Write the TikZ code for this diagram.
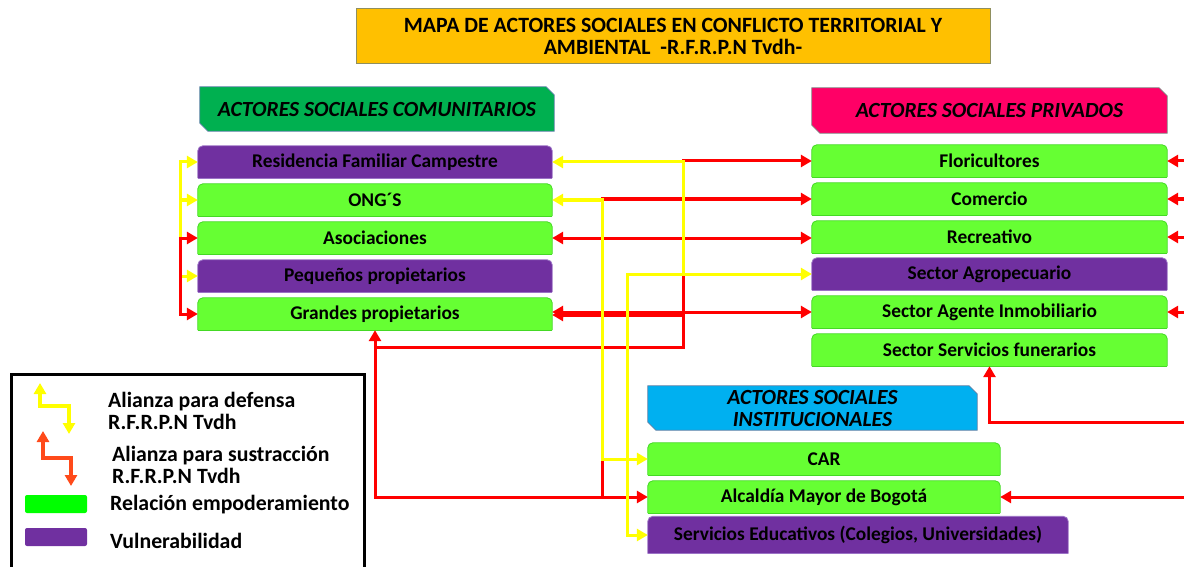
\documentclass[tikz,border=0pt]{standalone}
\usepackage{fontspec}
\setmainfont{Carlito}
\usetikzlibrary{arrows.meta,backgrounds}
\definecolor{gbox}{HTML}{66FF33}
\definecolor{gbord}{HTML}{44D924}
\definecolor{pbox}{HTML}{7030A0}
\definecolor{pbord}{HTML}{9B72C6}
\definecolor{tfill}{HTML}{FFC000}
\definecolor{tbord}{HTML}{8F8F5F}
\definecolor{hgreen}{HTML}{00B050}
\definecolor{hpink}{HTML}{FF0066}
\definecolor{hblue}{HTML}{00B0F0}
\definecolor{hbord}{HTML}{5B7FA6}
\definecolor{ared}{HTML}{FF0000}
\definecolor{ayel}{HTML}{FFFF00}
\definecolor{lorange}{HTML}{FF4A1A}
\definecolor{lgreen}{HTML}{00FF00}
\newcommand\bxfont{\fontsize{19.4}{22}\selectfont\bfseries}
\newcommand\hdfont{\fontsize{21.6}{22}\selectfont\bfseries\itshape}
\newcommand\ttlfont{\fontsize{21.8}{22}\selectfont\bfseries}
\newcommand\lgfont{\fontsize{21.8}{22}\selectfont\bfseries}
\newcommand\topround[3]{%
  \filldraw[fill=#2,draw=#3,line width=0.8pt,rounded corners=5pt]
    (#1.south west) -- (#1.north west) -- (#1.north east) -- (#1.south east);
  \draw[#3,line width=0.8pt] (#1.south west) -- (#1.south east);}
\newcommand\snipbox[3]{%
  \filldraw[fill=#2,draw=#3,line width=0.8pt]
    (#1.north west) -- ([xshift=-8pt]#1.north east) -- ([yshift=-8pt]#1.north east)
    -- (#1.south east) -- ([xshift=8pt]#1.south west) -- ([yshift=8pt]#1.south west) -- cycle;}
\begin{document}
\begin{tikzpicture}[x=1pt,y=-1pt,
  >={Triangle[length=11pt,width=12pt]},
  abox/.style={minimum height=32pt,inner sep=0pt,font=\bxfont,text=black},
  lbox/.style={abox,minimum width=354pt},
  rbox/.style={abox,minimum width=355pt},
  ibox/.style={abox,minimum width=352pt},
  hdr/.style={minimum height=44pt,inner sep=0pt,font=\hdfont,align=center},
  rline/.style={draw=ared,line width=3pt,line cap=rect},
  yline/.style={draw=ayel,line width=3pt,line cap=rect},
  lgtext/.style={anchor=west,font=\lgfont,align=left,inner sep=0pt}
]
\useasboundingbox (0,0) rectangle (1184,567);
% title
\node[draw=tbord,fill=tfill,line width=1pt,minimum width=634pt,minimum height=55pt,inner sep=0pt,font=\ttlfont,align=center] (title) at (673,36.5) {MAPA DE ACTORES SOCIALES EN CONFLICTO TERRITORIAL Y\\AMBIENTAL\ \ -R.F.R.P.N Tvdh-};
% headers
\node[hdr,minimum width=354pt] (hcom) at (377,109) {ACTORES SOCIALES COMUNITARIOS};
\node[hdr,minimum width=355pt,minimum height=45pt] (hpri) at (989.5,110.5) {ACTORES SOCIALES PRIVADOS};
\node[hdr,minimum width=329pt] (hins) at (812.5,408) {ACTORES SOCIALES\\INSTITUCIONALES};
% left column
\node[lbox] (res) at (375,162) {Residencia Familiar Campestre};
\node[lbox] (ong) at (375,200) {ONG´S};
\node[lbox] (aso) at (375,238) {Asociaciones};
\node[lbox] (peq) at (375,276) {Pequeños propietarios};
\node[lbox] (gra) at (375,314) {Grandes propietarios};
% right column
\node[rbox] (flo) at (989.5,161) {Floricultores};
\node[rbox] (com) at (989.5,199) {Comercio};
\node[rbox] (rec) at (989.5,237) {Recreativo};
\node[rbox] (agr) at (989.5,274) {Sector Agropecuario};
\node[rbox] (inm) at (989.5,312) {Sector Agente Inmobiliario};
\node[rbox] (fun) at (989.5,350) {Sector Servicios funerarios};
% institutional
\node[ibox] (car) at (824,459) {CAR};
\node[ibox] (alc) at (824,497) {Alcaldía Mayor de Bogotá};
\node[abox,minimum width=420pt,minimum height=37pt] (edu) at (858,535) {Servicios Educativos (Colegios, Universidades)};
% backgrounds
\begin{scope}[on background layer]
\snipbox{hcom}{hgreen}{hbord}
\snipbox{hpri}{hpink}{gray}
\snipbox{hins}{hblue}{hbord}
\topround{res}{pbox}{pbord}
\topround{ong}{gbox}{gbord}
\topround{aso}{gbox}{gbord}
\topround{peq}{pbox}{pbord}
\topround{gra}{gbox}{gbord}
\topround{flo}{gbox}{gbord}
\topround{com}{gbox}{gbord}
\topround{rec}{gbox}{gbord}
\topround{agr}{pbox}{pbord}
\topround{inm}{gbox}{gbord}
\topround{fun}{gbox}{gbord}
\topround{car}{gbox}{gbord}
\topround{alc}{gbox}{gbord}
\topround{edu}{pbox}{pbord}
\end{scope}
% left brackets
\coordinate (lyb) at (180,276);
\coordinate (lyo) at (180,200);
\coordinate (lrt) at (180,238);
\draw[yline,->] (lyb) |- (res.west);
\draw[yline,->] (lyo) -- (ong.west);
\draw[yline,->] (lyb) -- (peq.west);
\draw[rline,->] (lrt) -- (aso.west);
\draw[rline,->] (lrt) |- (gra.west);
% middle red
\coordinate (rA) at (683,347);
\coordinate (rB) at (375,347);
\coordinate (rC) at (602,460);
\coordinate (rD) at (602,497);
\coordinate (rE) at (602,199);
\coordinate (rF) at (683,315);
\draw[rline,->] (rA) |- (flo.west);
\draw[rline,->] (rA) -| (gra.south);
\draw[rline,->] (rB) |- (alc.west);
\draw[rline] (rC) -- (rD);
\draw[rline,->] (rE) -- (com.west);
\draw[rline,<->] (aso.east) -- (aso.east -| rec.west);
\draw[rline,<->] (gra.east |- inm.west) -- (inm.west);
\draw[rline,->] (rF) -- (gra.east |- rF);
% right rail
\coordinate (rt) at (1185,161);
\coordinate (rb) at (1185,497);
\coordinate (rm) at (1185,422);
\draw[rline] (rt) -- (rb);
\draw[rline,->] (rt) -- (flo.east);
\draw[rline,->] (rt |- com.east) -- (com.east);
\draw[rline,->] (rt |- rec.east) -- (rec.east);
\draw[rline,->] (rt |- inm.east) -- (inm.east);
\draw[rline,->] (rm) -| (fun.south);
\draw[rline,->] (rb) -- (alc.east);
% middle yellow
\coordinate (yA) at (683,274);
\coordinate (yC) at (627,274);
\coordinate (yD) at (602,200);
\draw[yline,->] (yA) |- (res.east);
\draw[yline,->] (yC) -- (agr.west);
\draw[yline,->] (yC) |- (edu.west);
\draw[yline,->] (yD) -- (ong.east);
\draw[yline,->] (yD) |- (car.west);
% legend
\node[draw=black,line width=3pt,minimum width=353pt,minimum height=230pt,anchor=north west,inner sep=0pt] (leg) at (10,373) {};
\coordinate (ly1) at (40,383);
\coordinate (lyM) at (55,406);
\coordinate (ly2) at (69,434);
\draw[yline,line width=4pt,<->] (ly1) |- (lyM) -| (ly2);
\coordinate (lo1) at (43,431);
\coordinate (loM) at (57,458);
\coordinate (lo2) at (71,486);
\draw[draw=lorange,line width=4pt,line cap=rect,<->] (lo1) |- (loM) -| (lo2);
\node[fill=lgreen,rounded corners=2pt,minimum width=62pt,minimum height=18pt,inner sep=0pt] (lg) at (56,504) {};
\node[fill=pbox,rounded corners=2pt,minimum width=62pt,minimum height=18pt,inner sep=0pt] (lp) at (56,537) {};
\node[lgtext] (t1) at (108,411) {Alianza para defensa\\R.F.R.P.N Tvdh};
\node[lgtext] (t2) at (112,465) {Alianza para sustracción\\R.F.R.P.N Tvdh};
\node[lgtext] (t3) at (110,505) {Relación empoderamiento};
\node[lgtext] (t4) at (110,541) {Vulnerabilidad};
\end{tikzpicture}
\end{document}
